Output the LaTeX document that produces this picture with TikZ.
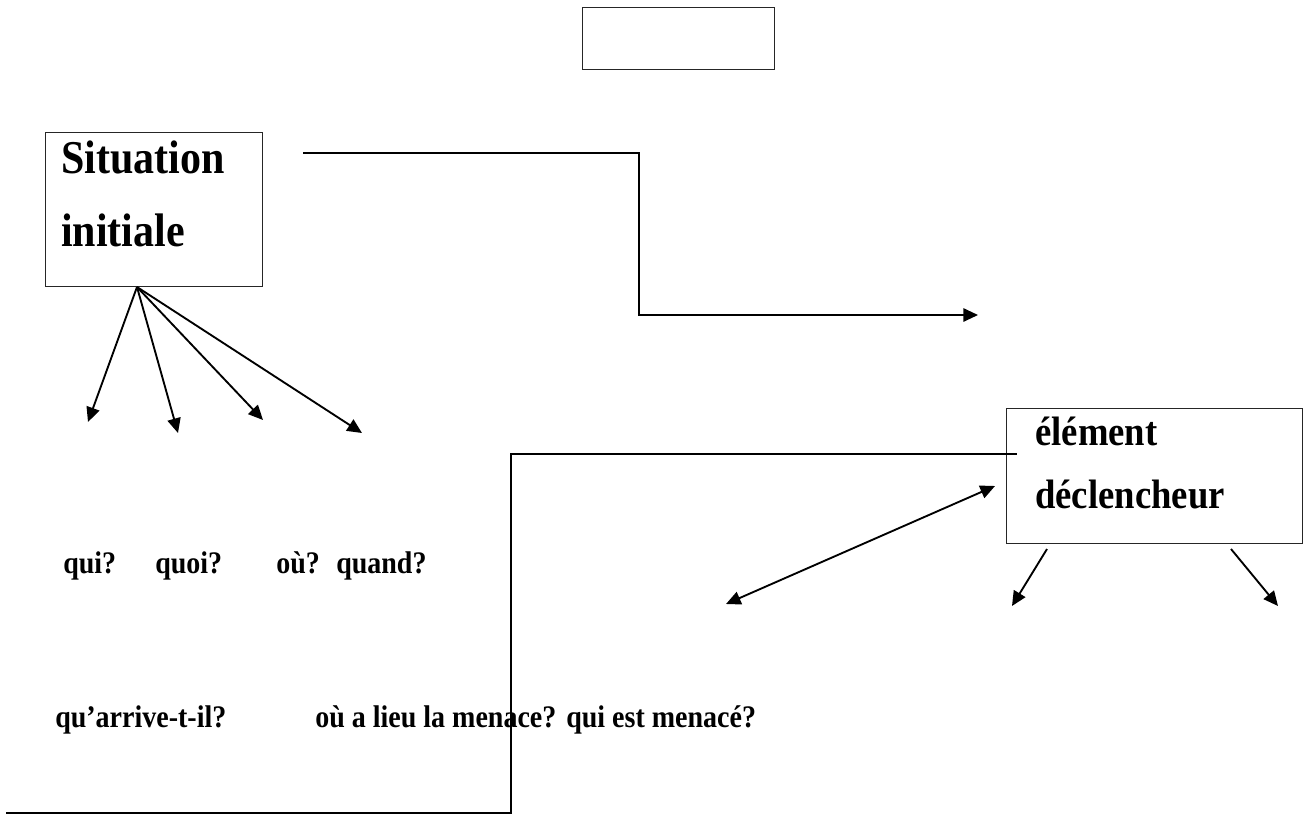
\documentclass[tikz,border=0pt]{standalone}
\usepackage{fontspec}
\usepackage{graphicx}
\setmainfont{Liberation Serif}
\usetikzlibrary{arrows.meta}
\newcommand{\tallt}[1]{\scalebox{1}[1.12]{#1}}
\tikzset{
  boxnode/.style={draw=black!85, line width=0.9pt, inner sep=0pt, anchor=north west},
  bigtxt/.style={font=\fontsize{31.5}{36}\selectfont\bfseries, inner sep=0pt, anchor=base west},
  midtxt/.style={font=\fontsize{27.5}{32}\selectfont\bfseries, inner sep=0pt, anchor=base west},
  qtxt/.style={font=\fontsize{21}{25}\selectfont\bfseries, inner sep=0pt, anchor=base west},
  conn/.style={line width=1.4pt, line join=miter},
  arr/.style={conn, -{Triangle[length=11pt,width=10pt]}},
  darr/.style={conn, {Triangle[length=11pt,width=10pt]}-{Triangle[length=11pt,width=10pt]}}
}
\begin{document}
\begin{tikzpicture}[x=0.75pt,y=-0.75pt]
\fill[white] (0,0) rectangle (1307,818);
\useasboundingbox (0,0) rectangle (1307,818);
% boxes
\node[boxnode, minimum width=144pt, minimum height=46.5pt] (top) at (582,7) {};
\node[boxnode, minimum width=162.75pt, minimum height=115.5pt] (sit) at (45,132) {};
\node[boxnode, minimum width=222pt, minimum height=101.25pt] (elt) at (1006,408) {};
% box texts
\node[bigtxt] (sit1) at (61,173) {\tallt{Situation}};
\node[bigtxt] (sit2) at (61,246) {\tallt{initiale}};
\node[midtxt] (elt1) at (1035,445) {\tallt{élément}};
\node[midtxt] (elt2) at (1035,508) {\tallt{déclencheur}};
% question texts
\node[qtxt] (q1) at (63,573) {\tallt{qui?}};
\node[qtxt] (q2) at (155,573) {\tallt{quoi?}};
\node[qtxt] (q3) at (276,573) {\tallt{où?}};
\node[qtxt] (q4) at (336,573) {\tallt{quand?}};
\node[qtxt] (r1) at (55,727) {\tallt{qu’arrive-t-il?}};
\node[qtxt] (r2) at (315,727) {\tallt{où a lieu la menace?}};
\node[qtxt] (r3) at (566,727) {\tallt{qui est menacé?}};
% coordinates
\coordinate (s0) at (137,287);
\coordinate (t1) at (88,422);
\coordinate (t2) at (178,433);
\coordinate (t3) at (263,420);
\coordinate (t4) at (362,433);
\coordinate (l1s) at (303,153);
\coordinate (l1c) at (639,315);
\coordinate (l1e) at (978,315);
\coordinate (b0) at (6,813);
\coordinate (bc) at (511,454);
\coordinate (b1) at (1017,454);
\coordinate (d0) at (726,604);
\coordinate (d1) at (995,486);
\coordinate (e0) at (1047,549);
\coordinate (e1) at (1012,606);
\coordinate (f0) at (1231,549);
\coordinate (f1) at (1278,606);
% connectors
\draw[arr] (s0) -- (t1);
\draw[arr] (s0) -- (t2);
\draw[arr] (s0) -- (t3);
\draw[arr] (s0) -- (t4);
\draw[arr] (l1s) -| (l1c) -- (l1e);
\draw[conn] (b0) -| (bc) -- (b1);
\draw[darr] (d0) -- (d1);
\draw[arr] (e0) -- (e1);
\draw[arr] (f0) -- (f1);
\end{tikzpicture}
\end{document}
